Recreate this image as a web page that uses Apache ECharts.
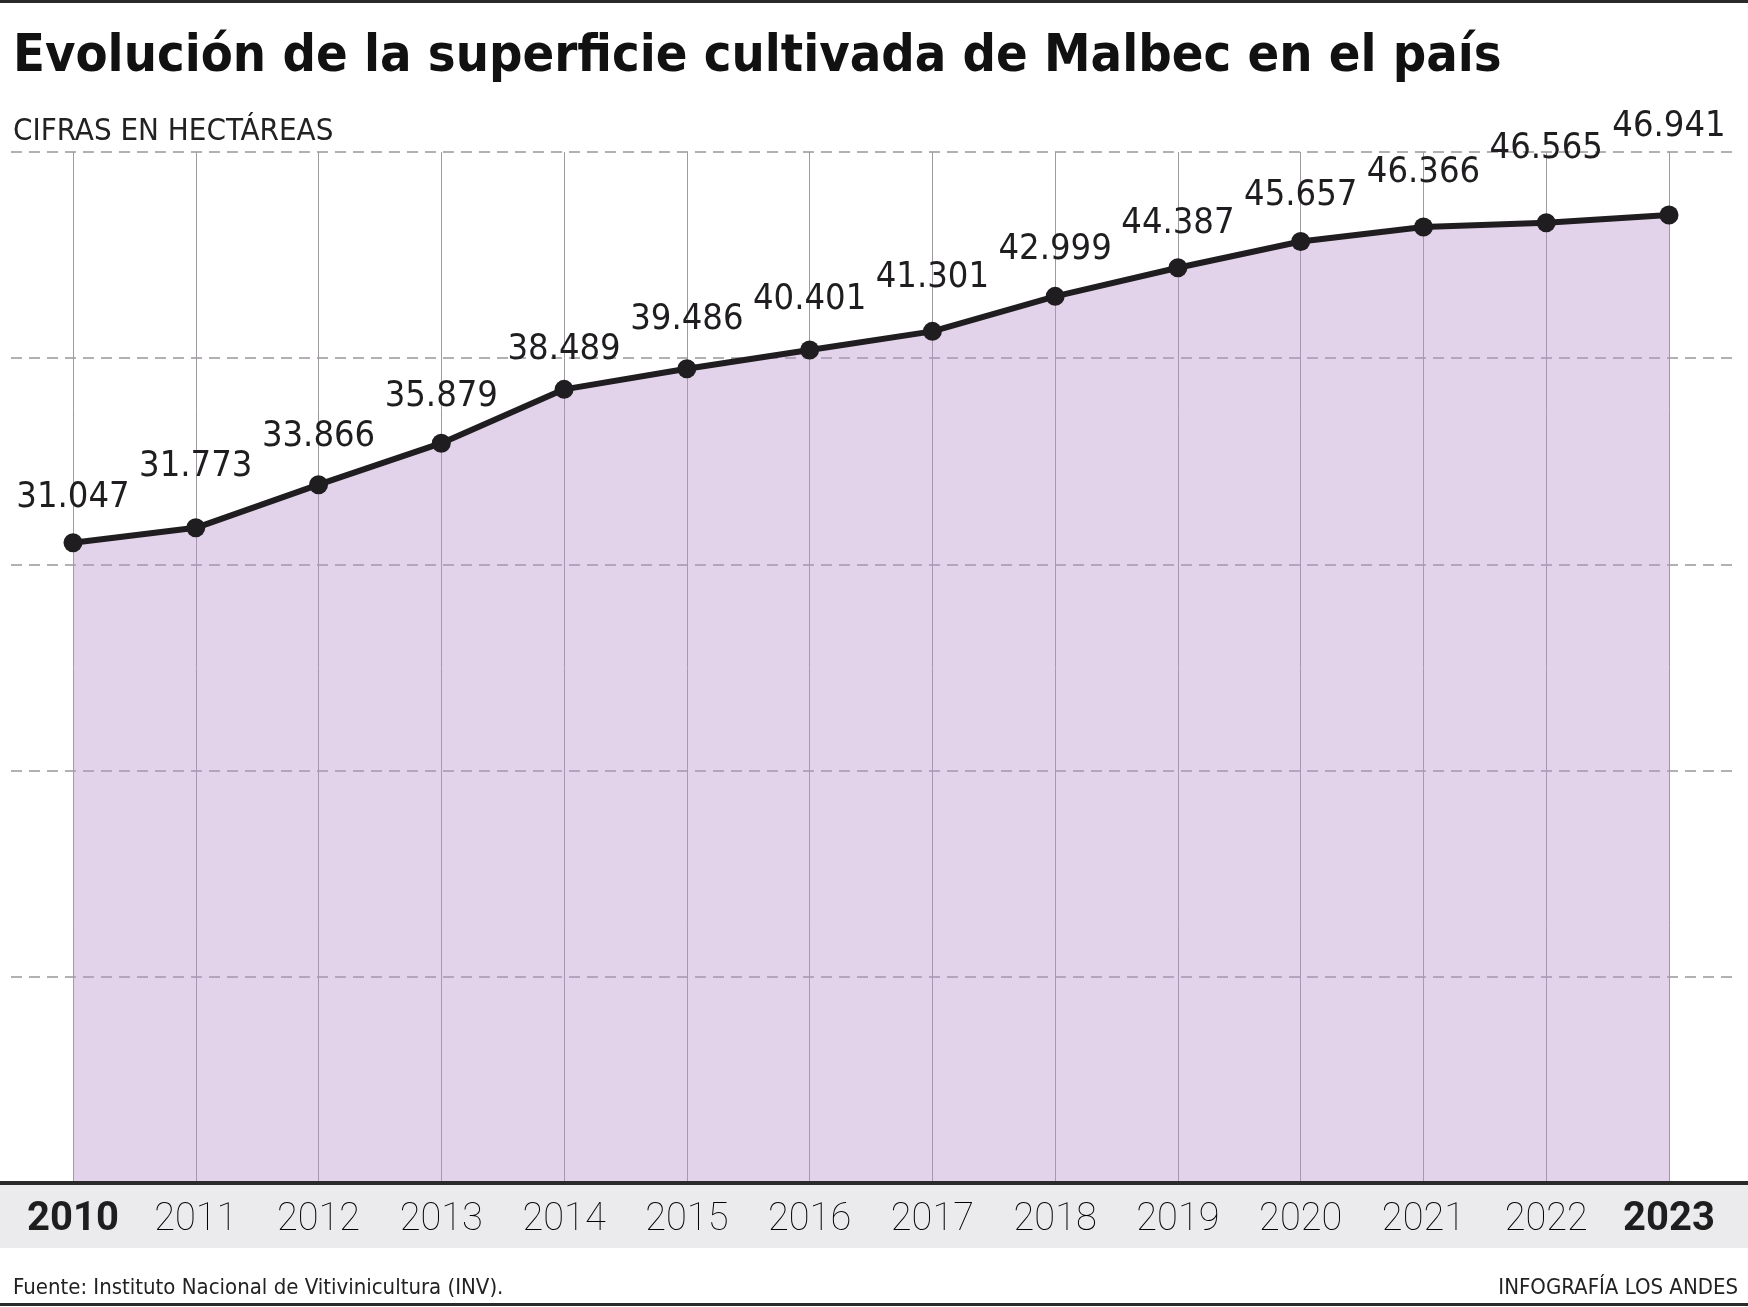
<!DOCTYPE html>
<html>
<head>
<meta charset="utf-8">
<script src="https://cdn.jsdelivr.net/npm/echarts@6/dist/echarts.min.js"></script>
<style>
html,body{margin:0;padding:0;background:#fff;}
#chart{width:1748px;height:1307px;}
</style>
</head>
<body>
<div id="chart"></div>
<script>
// ---- data ----
var years = ['2010','2011','2012','2013','2014','2015','2016','2017','2018','2019','2020','2021','2022','2023'];
var hectares = [31047, 31773, 33866, 35879, 38489, 39486, 40401, 41301, 42999, 44387, 45657, 46366, 46565, 46941];
var boldYears = ['2010', '2023'];
var yTicks = [0, 10000, 20000, 30000, 40000, 50000];
// label lift above each point (style only, pixels between point centre and text baseline)
var labelGap = [34, 50, 37, 35, 28, 38, 39, 42, 35, 33, 34, 43, 63, 77];

var titleText = 'Evolución de la superficie cultivada de Malbec en el país';
var subtitleText = 'CIFRAS EN HECTÁREAS';
var sourceText = 'Fuente: Instituto Nacional de Vitivinicultura (INV).';
var creditText = 'INFOGRAFÍA LOS ANDES';

var NARROW = '"Liberation Sans Narrow", "DejaVu Sans Condensed", "Roboto", sans-serif';
var INK = '#1f1d20';

function fmt(v) {
  return String(v).replace(/\B(?=(\d{3})+(?!\d))/g, '.');
}

var chart = echarts.init(document.getElementById('chart'), null, {renderer: 'canvas'});

var GRID_TOP = 152, GRID_BOTTOM = 1307 - 1183;

var option = {
  backgroundColor: '#ffffff',
  animation: false,
  grid: [
    {left: 11, right: 13, top: GRID_TOP, bottom: GRID_BOTTOM},
    {left: 73, right: 1748 - 1669, top: GRID_TOP, bottom: GRID_BOTTOM}
  ],
  xAxis: [
    {gridIndex: 0, type: 'value', min: 0, max: 1, show: false},
    {
      gridIndex: 1, type: 'category', data: years, boundaryGap: false,
      axisLine: {show: false}, axisTick: {show: false},
      splitLine: {show: true, lineStyle: {color: '#9e9aa0', width: 1}},
      axisLabel: {
        margin: 17,
        interval: 0,
        formatter: function (v) {
          return boldYears.indexOf(v) >= 0 ? '{b|' + v + '}' : '{t|' + v + '}';
        },
        rich: {
          b: {fontFamily: 'Roboto', fontWeight: 'bold', fontSize: 40, lineHeight: 40, color: '#1e1e1e'},
          t: {fontFamily: 'Roboto', fontWeight: 100, fontSize: 38, lineHeight: 40, color: '#000000'}
        }
      }
    }
  ],
  yAxis: [
    {
      gridIndex: 0, type: 'value', min: yTicks[0], max: yTicks[yTicks.length - 1], interval: yTicks[1] - yTicks[0],
      axisLine: {show: false}, axisTick: {show: false}, axisLabel: {show: false},
      splitLine: {show: true, lineStyle: {color: '#9a979b', width: 1.5, type: [11, 7]}}
    },
    {
      gridIndex: 1, type: 'value', min: yTicks[0], max: yTicks[yTicks.length - 1], interval: yTicks[1] - yTicks[0],
      show: false, splitLine: {show: false}
    }
  ],
  series: [{
    type: 'line',
    xAxisIndex: 1, yAxisIndex: 1,
    data: hectares.map(function (v, i) {
      return {
        value: v,
        label: {offset: [0, -(labelGap[i] - 34)]}
      };
    }),
    symbol: 'circle',
    symbolSize: 19,
    itemStyle: {color: INK},
    lineStyle: {color: INK, width: 6},
    areaStyle: {color: 'rgba(185,148,203,0.58)'},
    label: {
      show: true,
      position: 'top',
      distance: 18,
      formatter: function (p) { return fmt(p.value); },
      fontFamily: NARROW,
      fontSize: 36,
      color: INK
    },
    z: 3
  }],
  graphic: [
    {type: 'rect', shape: {x: 0, y: 0, width: 1748, height: 3}, style: {fill: '#2a2a2a'}, silent: true},
    {type: 'rect', shape: {x: 0, y: 1185, width: 1748, height: 63}, style: {fill: '#ebebed'}, silent: true, z: -10},
    {type: 'rect', shape: {x: 0, y: 1181, width: 1748, height: 4}, style: {fill: '#2a2a2a'}, silent: true, z: 10},
    {type: 'rect', shape: {x: 0, y: 1303, width: 1748, height: 3}, style: {fill: '#2a2a2a'}, silent: true},
    {type: 'text', x: 13, y: 57, style: {text: titleText, fontFamily: NARROW, fontWeight: 'bold', fontSize: 52, fill: '#111', verticalAlign: 'middle', align: 'left'}},
    {type: 'text', x: 13, y: 132, style: {text: subtitleText, fontFamily: NARROW, fontSize: 31, fill: '#222', verticalAlign: 'middle', align: 'left'}},
    {type: 'text', x: 13, y: 1288, style: {text: sourceText, fontFamily: NARROW, fontSize: 22, fill: '#222', verticalAlign: 'middle', align: 'left'}},
    {type: 'text', x: 1738, y: 1288, style: {text: creditText, fontFamily: NARROW, fontSize: 22, fill: '#222', verticalAlign: 'middle', align: 'right'}}
  ]
};

chart.setOption(option);
</script>
</body>
</html>
